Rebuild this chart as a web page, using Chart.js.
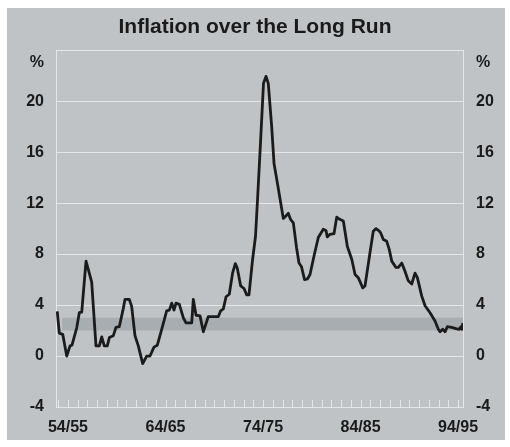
<!DOCTYPE html>
<html>
<head>
<meta charset="utf-8">
<script src="https://cdn.jsdelivr.net/npm/chart.js@4.4.1/dist/chart.umd.min.js"></script>
<style>
  html, body { margin: 0; padding: 0; background: #fff; }
</style>
</head>
<body>
<canvas id="chart" width="510" height="447"></canvas>
<script>
// 연말 기준 인플레이션 (%), 분기별로 그림에서 읽은 값
const years = [
  1953.90, 1954.11, 1954.46, 1954.87, 1955.21, 1955.41, 1955.89, 1956.16, 1956.41, 1956.85,
  1957.08, 1957.43, 1957.87, 1958.21, 1958.46, 1958.72, 1959.03, 1959.24, 1959.65, 1959.92,
  1960.26, 1960.61, 1960.85, 1961.29, 1961.53, 1961.87, 1962.21, 1962.66, 1963.07, 1963.41,
  1963.82, 1964.16, 1964.61, 1965.12, 1965.39, 1965.64, 1965.87, 1966.08, 1966.42, 1966.83,
  1967.10, 1967.69, 1967.85, 1968.13, 1968.54, 1968.88, 1969.39, 1969.90, 1970.42, 1970.66,
  1970.93, 1971.21, 1971.54, 1971.89, 1972.16, 1972.36, 1972.71, 1973.05, 1973.33, 1973.56,
  1973.92, 1974.23, 1974.44, 1974.74, 1975.05, 1975.31, 1975.54, 1975.89, 1976.13, 1976.47,
  1976.82, 1977.08, 1977.36, 1977.59, 1977.84, 1978.11, 1978.44, 1978.69, 1978.95, 1979.26,
  1979.56, 1979.82, 1980.23, 1980.67, 1981.18, 1981.46, 1981.59, 1981.87, 1982.28, 1982.56,
  1982.82, 1983.24, 1983.65, 1984.10, 1984.44, 1984.77, 1985.23, 1985.46, 1985.97, 1986.31,
  1986.59, 1986.93, 1987.07, 1987.34, 1987.69, 1987.95, 1988.20, 1988.64, 1988.88, 1989.23,
  1989.56, 1989.90, 1990.25, 1990.59, 1990.83, 1991.28, 1991.62, 1992.13, 1992.64, 1992.98,
  1993.15, 1993.43, 1993.67, 1993.90, 1994.35, 1994.79, 1995.13, 1995.30, 1995.40, 1995.50,
]
const inflation = [
  3.5, 1.8, 1.7, 0.0, 0.8, 0.85, 2.2, 3.4, 3.45, 7.45,
  6.8, 5.8, 0.8, 0.8, 1.5, 0.8, 0.8, 1.45, 1.6, 2.25,
  2.3, 3.5, 4.45, 4.45, 3.9, 1.6, 0.8, -0.6, 0.0, 0.0,
  0.7, 0.85, 2.1, 3.55, 3.6, 4.15, 3.6, 4.15, 4.05, 3.0,
  2.6, 2.6, 4.45, 3.2, 3.15, 1.9, 3.1, 3.1, 3.1, 3.55,
  3.7, 4.65, 4.85, 6.55, 7.25, 6.9, 5.5, 5.3, 4.8, 4.8,
  7.5, 9.4, 12.3, 16.7, 21.4, 21.95, 21.4, 18.0, 15.1, 13.6,
  12.0, 10.8, 11.0, 11.2, 10.7, 10.45, 8.5, 7.3, 7.0, 6.0,
  6.05, 6.4, 7.85, 9.3, 9.95, 9.85, 9.35, 9.55, 9.6, 10.9,
  10.75, 10.6, 8.6, 7.6, 6.4, 6.15, 5.35, 5.5, 8.1, 9.8,
  10.0, 9.8, 9.65, 9.15, 9.0, 8.35, 7.45, 6.95, 6.95, 7.3,
  6.65, 5.9, 5.65, 6.5, 6.15, 4.7, 3.95, 3.4, 2.75, 2.1,
  1.9, 2.1, 1.9, 2.3, 2.25, 2.15, 2.1, 2.3, 2.1, 2.6,
]

// 목표 구간 2~3%
const bandYears = [1954.4, 1995.51]
const bandTop = [3, 3]
const bandBottom = 2

const labelYears = [1955, 1965, 1975, 1985, 1995]
const yearLabels = ["54/55", "64/65", "74/75", "84/85", "94/95"]
const yTicks = [-4, 0, 4, 8, 12, 16, 20, 23, 24]

const BG = "#bfc3c6"
const BAND = "#a8adb1"
const GRID = "#e4e6e8"
const INK = "#1b1b1b"
const FONT = "'Liberation Sans', Arial, sans-serif"

const panel = {
  id: "panel",
  beforeDraw(chart) {
    const c = chart.ctx
    c.save()
    c.fillStyle = BG
    c.fillRect(7, 8, 498, 432)
    c.restore()
  },
}

// 아래쪽 연도 눈금 (안쪽으로 짧게)
const yearTicks = {
  id: "yearTicks",
  beforeDatasetsDraw(chart) {
    const x = chart.scales.x
    const bottom = chart.chartArea.bottom
    const c = chart.ctx
    c.save()
    c.strokeStyle = GRID
    c.lineWidth = 1
    for (let y = Math.ceil(x.min); y <= Math.floor(x.max); y++) {
      const px = Math.round(x.getPixelForValue(y)) + 0.5
      c.beginPath()
      c.moveTo(px, bottom - 7)
      c.lineTo(px, bottom)
      c.stroke()
    }
    c.restore()
  },
}

const yLabel = (v) => (v === 23 ? "%" : v === 24 ? "" : v)
const tickFont = { family: FONT, size: 16, weight: "bold" }

new Chart(document.getElementById("chart"), {
  type: "line",
  data: {
    datasets: [
      {
        data: years.map((t, i) => ({ x: t, y: inflation[i] })),
        borderColor: INK,
        borderWidth: 2.8,
        pointRadius: 0,
        tension: 0,
        borderJoinStyle: "round",
        order: 0,
      },
      {
        data: bandYears.map((t, i) => ({ x: t, y: bandTop[i] })),
        borderWidth: 0,
        borderColor: "transparent",
        backgroundColor: BAND,
        pointRadius: 0,
        fill: { value: bandBottom },
        order: 1,
      },
    ],
  },
  options: {
    responsive: false,
    animation: false,
    layout: { padding: 0 },
    plugins: {
      legend: { display: false },
      tooltip: { enabled: false },
      title: {
        display: true,
        text: "Inflation over the Long Run",
        color: "#1a1a1a",
        font: { family: FONT, size: 21, weight: "bold" },
        padding: { top: 15, bottom: 10 },
      },
    },
    scales: {
      x: {
        type: "linear",
        min: 1953.77,
        max: 1995.51,
        afterBuildTicks: (s) => { s.ticks = labelYears.map((v) => ({ value: v })) },
        afterFit: (s) => { s.height = 40 },
        grid: { display: false },
        border: { display: true, color: GRID, width: 1 },
        ticks: {
          autoSkip: false,
          maxRotation: 0,
          padding: 3,
          color: "#1a1a1a",
          font: tickFont,
          callback: (v) => yearLabels[labelYears.indexOf(v)],
        },
      },
      y: {
        position: "left",
        min: -4,
        max: 24,
        afterBuildTicks: (s) => { s.ticks = yTicks.map((v) => ({ value: v })) },
        afterFit: (s) => { s.width = 56 },
        grid: {
          drawTicks: false,
          color: (ctx) => (ctx.tick && ctx.tick.value === 23 ? "transparent" : GRID),
        },
        border: { display: true, color: GRID, width: 1 },
        ticks: { padding: 12, color: "#1a1a1a", font: tickFont, callback: yLabel },
      },
      y2: {
        position: "right",
        min: -4,
        max: 24,
        afterBuildTicks: (s) => { s.ticks = yTicks.map((v) => ({ value: v })) },
        afterFit: (s) => { s.width = 47 },
        grid: { display: false, drawTicks: false },
        border: { display: true, color: GRID, width: 1 },
        ticks: { padding: 13, color: "#1a1a1a", font: tickFont, callback: yLabel },
      },
    },
  },
  plugins: [panel, yearTicks],
})
</script>
</body>
</html>
